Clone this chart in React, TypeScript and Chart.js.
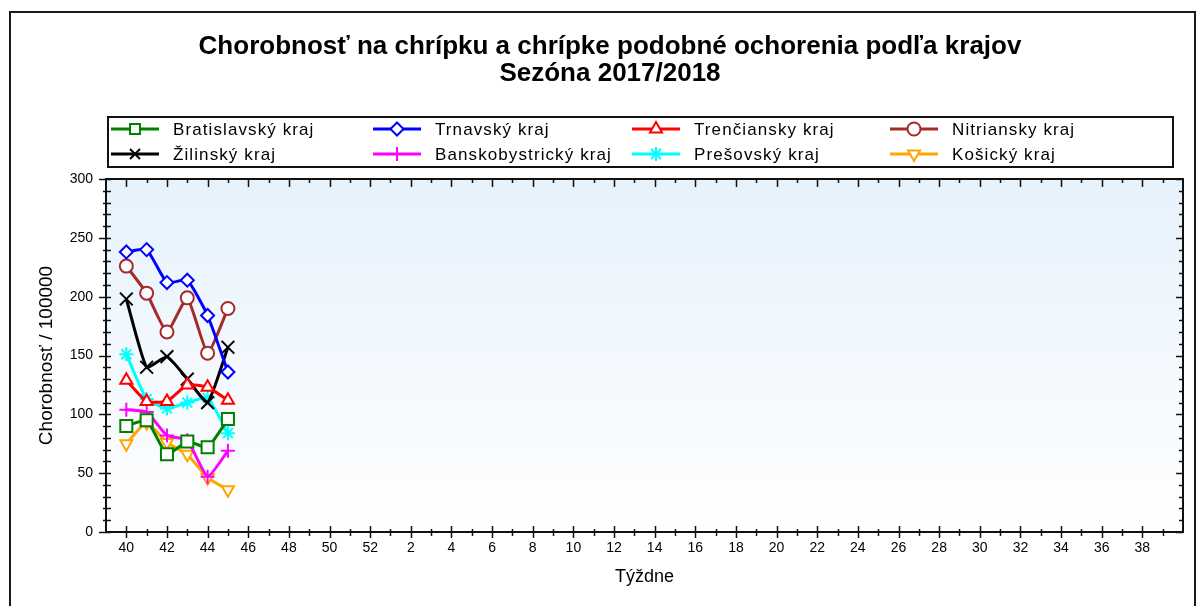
import React, { useEffect, useRef } from 'react';
import { Chart, registerables } from 'chart.js';

Chart.register(...registerables);

// ---- data ----
const weekLabels: number[] = [
  40, 41, 42, 43, 44, 45, 46, 47, 48, 49, 50, 51, 52,
  1, 2, 3, 4, 5, 6, 7, 8, 9, 10, 11, 12, 13, 14, 15, 16, 17, 18, 19, 20,
  21, 22, 23, 24, 25, 26, 27, 28, 29, 30, 31, 32, 33, 34, 35, 36, 37, 38, 39,
];
const measuredWeeks: number[] = [40, 41, 42, 43, 44, 45];

const bratislavsky: number[] = [90, 95, 66, 77, 72, 96];
const trnavsky: number[] = [238, 240, 212, 214, 184, 136];
const trenciansky: number[] = [129, 111, 111, 125, 123, 112];
const nitriansky: number[] = [226, 203, 170, 199, 152, 190];
const zilinsky: number[] = [198, 140, 149, 130, 110, 157];
const banskobystricky: number[] = [104, 102, 82, 78, 47, 69];
const presovsky: number[] = [151, 113, 105, 110, 114, 84];
const kosicky: number[] = [75, 93, 76, 66, 46, 36];

const seriesNames: string[] = [
  'Bratislavský kraj', 'Trnavský kraj', 'Trenčiansky kraj', 'Nitriansky kraj',
  'Žilinský kraj', 'Banskobystrický kraj', 'Prešovský kraj', 'Košický kraj',
];
const seriesValues: number[][] = [
  bratislavsky, trnavsky, trenciansky, nitriansky,
  zilinsky, banskobystricky, presovsky, kosicky,
];
const seriesColors: string[] = [
  '#008000', '#0000ff', '#ff0000', '#a52a2a',
  '#000000', '#ff00ff', '#00ffff', '#ffa500',
];
const seriesMarkers: string[] = [
  'rect', 'rectRot', 'triangle', 'circle',
  'crossRot', 'cross', 'star', 'triangleDown',
];
const markerRadius: number[] = [8.5, 6.5, 7, 6.5, 9, 7, 7, 7];

const titleLines: string[] = [
  'Chorobnosť na chrípku a chrípke podobné ochorenia podľa krajov',
  'Sezóna 2017/2018',
];
const yTitle = 'Chorobnosť / 100000';
const xTitle = 'Týždne';

const FONT = "'Liberation Sans', Arial, sans-serif";

function drawMarker(ctx: CanvasRenderingContext2D, style: string, x: number, y: number, r: number, color: string) {
  ctx.save();
  ctx.strokeStyle = color;
  ctx.fillStyle = '#ffffff';
  ctx.lineWidth = 2;
  ctx.beginPath();
  const tri = (rot: number) => {
    let rad = rot;
    ctx.moveTo(x + Math.sin(rad) * r, y - Math.cos(rad) * r);
    rad += (2 * Math.PI) / 3;
    ctx.lineTo(x + Math.sin(rad) * r, y - Math.cos(rad) * r);
    rad += (2 * Math.PI) / 3;
    ctx.lineTo(x + Math.sin(rad) * r, y - Math.cos(rad) * r);
    ctx.closePath();
    ctx.fill();
    ctx.stroke();
  };
  const s = r * Math.SQRT1_2;
  switch (style) {
    case 'rect':
      ctx.rect(x - s, y - s, 2 * s, 2 * s);
      ctx.fill();
      ctx.stroke();
      break;
    case 'rectRot':
      ctx.moveTo(x, y - r);
      ctx.lineTo(x + r, y);
      ctx.lineTo(x, y + r);
      ctx.lineTo(x - r, y);
      ctx.closePath();
      ctx.fill();
      ctx.stroke();
      break;
    case 'circle':
      ctx.arc(x, y, r, 0, Math.PI * 2);
      ctx.fill();
      ctx.stroke();
      break;
    case 'triangle':
      tri(0);
      break;
    case 'triangleDown':
      tri(Math.PI);
      break;
    case 'crossRot':
      ctx.moveTo(x - s, y - s); ctx.lineTo(x + s, y + s);
      ctx.moveTo(x + s, y - s); ctx.lineTo(x - s, y + s);
      ctx.stroke();
      break;
    case 'cross':
      ctx.moveTo(x - r, y); ctx.lineTo(x + r, y);
      ctx.moveTo(x, y - r); ctx.lineTo(x, y + r);
      ctx.stroke();
      break;
    case 'star':
      ctx.moveTo(x - r, y); ctx.lineTo(x + r, y);
      ctx.moveTo(x, y - r); ctx.lineTo(x, y + r);
      ctx.moveTo(x - s, y - s); ctx.lineTo(x + s, y + s);
      ctx.moveTo(x + s, y - s); ctx.lineTo(x - s, y + s);
      ctx.stroke();
      break;
  }
  ctx.restore();
}

const TITLE_CENTER = 610;
const titleBaselines: number[] = [54, 81];

const decorPlugin = {
  id: 'decor',
  beforeDraw(chart: any) {
    const { ctx, chartArea: a, width, height } = chart;
    ctx.save();
    ctx.fillStyle = '#ffffff';
    ctx.fillRect(0, 0, width, height);
    ctx.strokeStyle = '#1a1a1a';
    ctx.lineWidth = 2;
    ctx.strokeRect(10, 12, 1185, 700);
    const g = ctx.createLinearGradient(0, a.top, 0, a.bottom);
    g.addColorStop(0, '#e6f2fc');
    g.addColorStop(1, '#ffffff');
    ctx.fillStyle = g;
    ctx.fillRect(a.left, a.top, a.right - a.left, a.bottom - a.top);
    ctx.restore();
  },
  beforeDatasetsDraw(chart: any) {
    const { ctx, chartArea: a, scales } = chart;
    const xs = scales.x;
    const ys = scales.y;
    ctx.save();
    ctx.strokeStyle = '#111111';
    ctx.lineWidth = 2;
    ctx.strokeRect(a.left, a.top, a.right - a.left, a.bottom - a.top);
    ctx.lineWidth = 1.5;
    ctx.beginPath();
    for (let i = 0; i < weekLabels.length; i++) {
      const px = Math.round(xs.getPixelForValue(i)) + 0.5;
      const major = weekLabels[i] % 2 === 0;
      ctx.moveTo(px, a.bottom - (major ? 6 : 3));
      ctx.lineTo(px, a.bottom + (major ? 6 : 4));
      ctx.moveTo(px, a.top);
      ctx.lineTo(px, a.top + (major ? 8 : 4));
    }
    for (let v = 0; v <= 300; v += 10) {
      const py = Math.round(ys.getPixelForValue(v)) + 0.5;
      const major = v % 50 === 0;
      ctx.moveTo(a.left - (major ? 7 : 3), py);
      ctx.lineTo(a.left + 5, py);
      ctx.moveTo(a.right, py);
      ctx.lineTo(a.right - (major ? 7 : 4), py);
    }
    ctx.stroke();
    ctx.restore();
  },
  afterDraw(chart: any) {
    const { ctx } = chart;
    ctx.save();
    // title
    ctx.fillStyle = '#000000';
    ctx.font = `bold 26px ${FONT}`;
    ctx.textBaseline = 'alphabetic';
    ctx.textAlign = 'center';
    for (let i = 0; i < titleLines.length; i++) {
      ctx.fillText(titleLines[i], TITLE_CENTER, titleBaselines[i]);
    }
    // legend box
    ctx.strokeStyle = '#111111';
    ctx.lineWidth = 2;
    ctx.strokeRect(108, 117, 1065, 50);
    const colX = [111, 373, 632, 890];
    const rowY = [129, 154];
    ctx.font = `17px ${FONT}`;
    (ctx as any).letterSpacing = '1.1px';
    ctx.textBaseline = 'middle';
    ctx.textAlign = 'left';
    for (let i = 0; i < seriesNames.length; i++) {
      const col = i % 4;
      const row = Math.floor(i / 4);
      const x0 = colX[col];
      const y0 = rowY[row];
      ctx.strokeStyle = seriesColors[i];
      ctx.lineWidth = 3;
      ctx.beginPath();
      ctx.moveTo(x0, y0);
      ctx.lineTo(x0 + 48, y0);
      ctx.stroke();
      drawMarker(ctx, seriesMarkers[i], x0 + 24, y0, Math.min(markerRadius[i], 7), seriesColors[i]);
      ctx.fillStyle = '#000000';
      ctx.fillText(seriesNames[i], x0 + 62, y0 + 1);
    }
    ctx.restore();
  },
};

export default function App() {
  const canvasRef = useRef<HTMLCanvasElement | null>(null);

  useEffect(() => {
    if (!canvasRef.current) return;
    const datasets = seriesNames.map((name, i) => ({
      label: name,
      data: measuredWeeks.map((w, j) => ({ x: weekLabels.indexOf(w), y: seriesValues[i][j] })),
      borderColor: seriesColors[i],
      backgroundColor: '#ffffff',
      borderWidth: 3,
      pointStyle: seriesMarkers[i] === 'triangleDown' ? 'triangle' : seriesMarkers[i],
      pointRotation: seriesMarkers[i] === 'triangleDown' ? 180 : 0,
      pointRadius: markerRadius[i],
      pointBorderWidth: 2,
      pointBorderColor: seriesColors[i],
      pointBackgroundColor: '#ffffff',
      tension: 0.15,
      fill: false,
    }));

    const chart = new Chart(canvasRef.current, {
      type: 'line',
      data: { datasets } as any,
      plugins: [decorPlugin],
      options: {
        animation: false,
        responsive: false,
        events: [],
        layout: { padding: { left: 0, right: 15, top: 179, bottom: 0 } },
        plugins: {
          legend: { display: false },
          tooltip: { enabled: false },
          title: { display: false },
        },
        scales: {
          x: {
            type: 'linear',
            min: -1,
            max: 52,
            afterFit: (s: any) => { s.height = 74; },
            grid: { display: false, drawTicks: false },
            border: { display: false },
            ticks: {
              stepSize: 1,
              autoSkip: false,
              maxRotation: 0,
              padding: 8,
              color: '#000000',
              font: { family: FONT, size: 14 },
              callback: (v: any) => {
                const idx = Number(v);
                if (idx < 0 || idx >= weekLabels.length - 1) return '';
                const w = weekLabels[idx];
                return w % 2 === 0 ? String(w) : '';
              },
            },
            title: {
              display: true,
              text: xTitle,
              color: '#000000',
              font: { family: FONT, size: 18 },
              padding: { top: 0, bottom: 18 },
            },
          },
          y: {
            type: 'linear',
            min: 0,
            max: 300,
            afterFit: (s: any) => { s.width = 106; },
            grid: { display: false, drawTicks: false },
            border: { display: false },
            ticks: {
              stepSize: 50,
              padding: 13,
              color: '#000000',
              font: { family: FONT, size: 14 },
            },
            title: {
              display: true,
              text: yTitle,
              color: '#000000',
              font: { family: FONT, size: 19 },
              padding: { top: 35, bottom: 0 },
            },
          },
        },
      } as any,
    });
    return () => chart.destroy();
  }, []);

  return (
    <div style={{ position: 'fixed', left: 0, top: 0, width: 1198, height: 606, background: '#fff' }}>
      <canvas ref={canvasRef} width={1198} height={606} style={{ display: 'block' }} />
    </div>
  );
}
